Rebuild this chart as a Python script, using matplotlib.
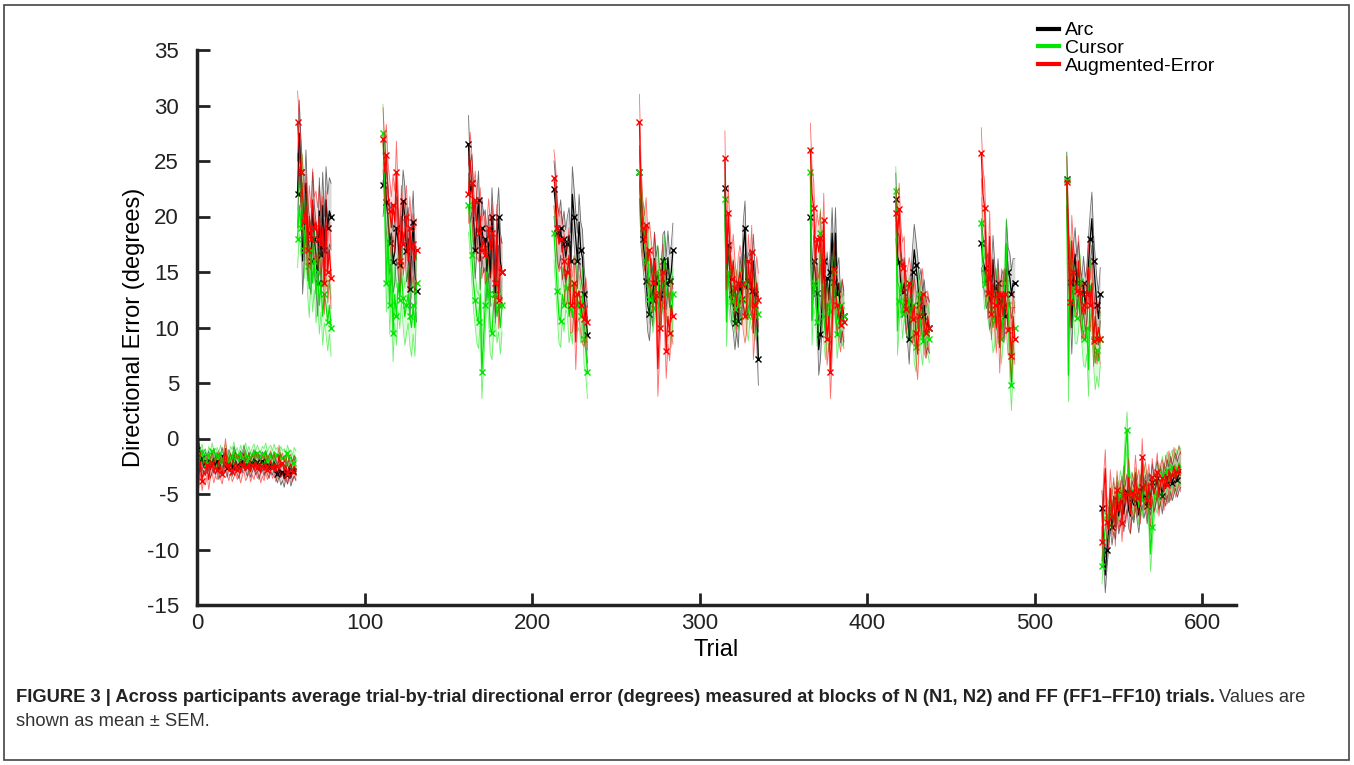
import numpy as np
import matplotlib
matplotlib.use("Agg")
import matplotlib.pyplot as plt
from matplotlib.lines import Line2D
from matplotlib.patches import Rectangle

plt.rcParams['font.family'] = ['Liberation Sans', 'DejaVu Sans']
plt.rcParams['axes.unicode_minus'] = False

groups = ['Arc', 'Cursor', 'Augmented-Error']
colors = ['#000000', '#00e600', '#ff0000']

# first trial of each block: N1, FF1..FF10, N2
block_starts = [0, 60, 111, 162, 213, 264, 315, 366, 417, 468, 519, 540]

# ---- Arc ----
arc_blocks = [
    [-1.0, -0.5, -2.2, -1.8, -2.6, -2.0, -2.4, -1.9, -2.8, -2.2, -1.7, -2.5, -2.0, -2.9, -2.3,
     -1.6, -2.4, -2.1, -2.7, -1.8, -2.2, -2.6, -1.5, -2.0, -2.4, -2.8, -1.9, -2.3, -1.4, -2.1,
     -2.6, -2.0, -2.7, -2.2, -1.8, -2.5, -2.1, -2.9, -2.3, -2.0, -2.6, -1.9, -2.4, -2.8, -2.2,
     -2.5, -2.0, -2.7, -3.2, -2.6, -3.4, -3.0, -3.6, -2.8, -3.3, -2.5, -3.5, -2.9, -2.6, -3.0],
    [22.0, 27.5, 24.0, 16.0, 19.0, 23.0, 18.5, 17.0, 16.0, 21.0, 18.0, 16.5, 14.0, 20.5, 16.5,
     21.0, 17.0, 21.5, 19.0, 20.5, 20.0],
    [22.8, 24.4, 21.3, 19.8, 17.6, 18.5, 15.9, 16.8, 19.0, 17.8, 15.6, 18.5, 21.4, 19.9, 16.9,
     18.0, 13.5, 17.0, 19.5, 15.0, 13.3],
    [26.5, 22.0, 23.0, 20.0, 17.0, 19.5, 21.5, 16.0, 19.0, 17.5, 18.0, 15.0, 17.5, 14.5, 20.0,
     17.0, 13.0, 18.0, 20.0, 16.0, 15.0],
    [22.5, 21.0, 18.5, 17.8, 19.0, 16.8, 18.0, 16.3, 17.5, 18.3, 16.0, 22.0, 20.0, 18.0, 16.0,
     19.5, 17.0, 16.3, 13.0, 11.0, 9.3],
    [24.0, 19.7, 18.0, 16.5, 14.2, 12.0, 11.2, 13.8, 12.5, 16.2, 14.0, 15.0, 13.0, 12.4, 16.0,
     16.3, 14.0, 16.3, 14.2, 15.0, 17.0],
    [22.6, 13.4, 17.4, 15.0, 13.0, 12.0, 10.4, 12.0, 10.6, 14.0, 12.6, 17.2, 19.0, 13.5, 14.2,
     14.6, 13.3, 16.0, 13.0, 11.0, 7.2],
    [20.0, 13.0, 16.0, 15.0, 13.1, 8.0, 9.4, 12.3, 16.0, 12.6, 14.5, 12.5, 15.0, 18.5, 14.1,
     18.5, 13.0, 14.0, 10.9, 12.0, 11.0],
    [21.6, 16.4, 15.9, 14.0, 13.2, 14.0, 12.3, 11.0, 9.0, 12.5, 15.0, 17.0, 15.6, 14.2, 12.0,
     13.0, 11.0, 12.0, 9.9, 10.5, 10.0],
    [17.6, 16.0, 15.4, 13.9, 14.5, 12.0, 13.0, 16.1, 13.6, 12.0, 14.0, 11.0, 12.4, 13.0, 11.0,
     17.5, 15.0, 14.5, 13.0, 14.0, 14.0],
    [23.4, 16.3, 14.1, 10.0, 15.0, 16.6, 14.0, 15.3, 13.1, 12.0, 14.0, 12.1, 13.0, 15.8, 18.0,
     19.8, 16.0, 13.9, 12.0, 10.8, 13.0],
    [-6.3, -9.5, -12.3, -10.0, -8.3, -6.5, -8.0, -6.8, -7.5, -5.5, -7.0, -6.2, -5.0, -6.8, -5.6,
     -4.8, -6.5, -7.0, -5.4, -6.0, -4.6, -5.8, -6.9, -5.2, -4.4, -5.6, -4.9, -6.1, -4.7, -5.3,
     -3.9, -5.0, -4.4, -3.6, -4.8, -4.1, -5.2, -3.8, -4.5, -3.5, -4.2, -3.2, -4.0, -3.4, -2.9,
     -3.7, -3.1, -2.8],
]

# ---- Cursor ----
cur_blocks = [
    [-1.5, -2.2, -1.8, -1.2, -2.0, -1.6, -2.3, -1.4, -1.9, -1.1, -1.7, -2.1, -1.5, -1.9, -1.3,
     -2.0, -1.6, -1.2, -1.8, -2.2, -1.4, -1.7, -1.0, -1.9, -1.5, -2.1, -1.3, -1.8, -1.6, -1.1,
     -1.9, -1.4, -2.0, -1.5, -1.2, -1.8, -1.3, -1.7, -2.0, -1.4, -1.6, -1.1, -1.9, -1.5, -1.3,
     -1.8, -1.2, -1.7, -1.5, -2.0, -1.4, -1.8, -1.6, -2.1, -1.3, -1.9, -1.7, -2.2, -1.5, -1.8],
    [18.0, 21.0, 19.0, 23.0, 17.0, 19.5, 15.5, 13.5, 17.0, 14.0, 16.0, 13.0, 15.0, 12.0, 14.0,
     11.0, 13.0, 12.0, 10.5, 12.0, 10.0],
    [27.5, 22.0, 14.0, 18.0, 12.0, 16.0, 9.5, 13.0, 11.0, 14.0, 12.5, 15.0, 12.7, 11.0, 12.0,
     13.0, 11.0, 10.0, 12.0, 10.0, 14.0],
    [21.0, 19.0, 16.5, 14.0, 12.5, 11.0, 10.5, 13.0, 6.0, 9.0, 12.0, 15.0, 13.0, 10.0, 9.5,
     12.0, 13.0, 11.0, 12.0, 10.0, 12.0],
    [18.5, 16.0, 13.3, 11.0, 10.6, 13.0, 12.0, 14.0, 13.6, 11.0, 12.0, 10.9, 14.0, 13.8, 12.0,
     12.4, 11.0, 13.0, 9.0, 8.0, 6.0],
    [24.0, 21.0, 19.0, 18.5, 15.9, 17.0, 12.6, 14.0, 11.8, 13.0, 15.0, 14.9, 12.0, 13.3, 14.0,
     16.0, 13.0, 12.7, 13.0, 10.5, 13.0],
    [21.6, 10.5, 15.0, 13.0, 12.4, 14.0, 11.7, 13.0, 12.0, 13.3, 12.5, 13.5, 14.0, 12.0, 11.0,
     13.0, 12.0, 13.0, 11.0, 12.0, 11.2],
    [24.0, 10.6, 14.0, 13.0, 10.5, 12.0, 18.5, 14.0, 11.0, 9.3, 12.0, 10.0, 11.5, 13.0, 15.0,
     12.0, 9.4, 11.0, 12.0, 10.5, 11.0],
    [22.3, 9.7, 12.4, 14.0, 11.2, 13.0, 12.0, 11.2, 12.5, 10.6, 12.0, 9.0, 8.2, 11.0, 13.0,
     10.0, 8.8, 11.0, 9.5, 10.0, 9.0],
    [19.4, 16.0, 13.9, 15.0, 13.0, 12.0, 11.7, 10.0, 10.7, 13.0, 10.8, 12.0, 9.0, 11.0, 14.0,
     17.5, 12.0, 8.0, 4.8, 9.0, 10.0],
    [23.3, 5.7, 15.8, 12.2, 13.6, 11.0, 10.9, 12.0, 14.2, 11.0, 9.0, 8.8, 10.0, 6.2, 13.7,
     12.0, 9.0, 6.8, 8.0, 7.0, 9.0],
    [-11.5, -9.3, -8.2, -6.9, -7.5, -6.0, -6.8, -5.5, -6.2, -5.0, -5.8, -4.5, -5.4, -4.0, -1.0,
     0.8, -3.5, -5.2, -4.6, -5.8, -4.2, -5.0, -6.2, -4.8, -5.5, -3.9, -5.1, -4.4, -6.5, -10.4,
     -8.0, -5.8, -4.6, -5.2, -3.8, -4.5, -3.2, -4.1, -3.5, -2.8, -3.9, -3.0, -2.6, -3.4, -2.5,
     -3.0, -2.2, -2.6],
]

# ---- Augmented-Error ----
ae_blocks = [
    [-2.5, -3.6, -2.1, -3.8, -2.9, -3.3, -2.4, -3.7, -2.6, -2.2, -3.1, -2.5, -2.8, -2.0, -2.7,
     -3.2, -2.3, -0.9, -2.4, -2.9, -2.2, -3.0, -2.6, -2.1, -2.8, -2.4, -3.1, -2.5, -2.0, -2.9,
     -2.6, -2.2, -3.0, -2.4, -2.8, -2.1, -2.7, -2.3, -3.1, -2.5, -2.9, -2.2, -2.8, -2.4, -2.0,
     -2.7, -2.3, -3.0, -2.5, -1.5, -2.6, -2.2, -2.9, -2.4, -3.2, -2.6, -2.3, -3.0, -2.5, -2.8],
    [28.5, 26.0, 24.0, 22.0, 19.5, 21.0, 17.0, 20.0, 18.0, 21.5, 19.0, 19.5, 18.0, 20.0, 17.5,
     19.0, 14.0, 19.5, 15.0, 17.0, 14.5],
    [27.0, 24.0, 25.5, 22.0, 20.5, 19.0, 21.0, 19.5, 24.0, 19.5, 16.0, 20.0, 17.5, 18.5, 20.0,
     16.0, 19.0, 16.5, 17.5, 16.0, 17.0],
    [22.0, 25.0, 23.0, 20.0, 21.5, 19.0, 18.5, 20.0, 17.0, 18.0, 16.5, 17.0, 19.0, 17.0, 18.5,
     16.0, 14.0, 18.5, 12.5, 15.5, 15.0],
    [23.5, 22.0, 19.0, 17.5, 18.0, 17.2, 16.0, 14.3, 15.0, 16.5, 12.0, 12.1, 14.0, 8.7, 13.0,
     13.3, 12.0, 11.0, 10.8, 12.0, 10.5],
    [28.5, 22.0, 19.0, 17.6, 19.2, 16.0, 17.0, 15.4, 14.0, 16.0, 12.9, 6.3, 10.0, 13.6, 15.0,
     12.0, 7.9, 11.0, 9.5, 12.0, 11.0],
    [25.3, 15.8, 20.3, 17.0, 14.4, 16.0, 13.6, 12.0, 14.0, 15.0, 13.9, 12.0, 11.0, 12.0, 16.0,
     13.5, 16.8, 9.5, 12.0, 14.0, 12.5],
    [26.0, 22.0, 20.8, 15.9, 18.0, 16.8, 18.1, 14.0, 19.7, 12.0, 9.0, 11.0, 6.0, 10.0, 15.3,
     13.0, 12.0, 11.2, 10.2, 12.0, 10.5],
    [20.3, 18.0, 20.7, 17.0, 15.4, 15.9, 11.7, 13.0, 14.0, 13.0, 10.8, 12.0, 9.5, 7.6, 11.0,
     12.0, 13.0, 10.0, 9.5, 11.0, 10.0],
    [25.7, 22.0, 20.8, 16.0, 13.1, 18.2, 11.2, 14.0, 12.0, 10.0, 13.0, 8.2, 13.0, 11.0, 13.0,
     12.0, 9.8, 10.0, 7.4, 11.0, 9.0],
    [23.1, 18.1, 12.3, 17.8, 15.0, 14.0, 13.3, 16.0, 13.2, 11.2, 12.0, 11.2, 13.0, 15.4, 12.0,
     14.0, 8.8, 11.0, 9.0, 10.0, 9.0],
    [-9.3, -5.0, -2.7, -7.5, -8.2, -4.5, -7.0, -5.2, -8.0, -4.6, -6.5, -5.5, -7.6, -4.2, -6.0,
     -5.0, -3.5, -6.8, -4.8, -5.6, -3.2, -5.4, -4.5, -6.0, -1.7, -4.8, -3.8, -5.5, -4.0, -6.2,
     -3.5, -5.0, -4.3, -3.0, -5.3, -4.0, -3.6, -4.8, -3.2, -4.2, -2.8, -3.9, -3.3, -2.5, -3.6,
     -3.0, -2.4, -3.1],
]

# SEM per block (N1, FF1..FF10, N2)
arc_sem = [0.8, 3.0, 2.8, 2.6, 2.5, 2.4, 2.4, 2.3, 2.3, 2.2, 2.4, 1.6]
cur_sem = [0.7, 2.6, 2.6, 2.4, 2.4, 2.3, 2.2, 2.2, 2.2, 2.3, 2.4, 1.6]
ae_sem = [0.9, 2.8, 2.8, 2.6, 2.5, 2.5, 2.4, 2.4, 2.3, 2.3, 2.3, 1.7]

fig = plt.figure(figsize=(13.54, 7.65), dpi=100)
ax = fig.add_axes([197 / 1354, 1 - 605 / 765, (1236 - 197) / 1354, (605 - 50) / 765])

for blocks, sems, col in zip([arc_blocks, cur_blocks, ae_blocks],
                             [arc_sem, cur_sem, ae_sem], colors):
    for i, (vals, s) in enumerate(zip(blocks, sems)):
        m = np.array(vals)
        x = block_starts[i] + np.arange(len(m))
        ax.fill_between(x, m - s, m + s, color=col, alpha=0.14, lw=0)
        ax.plot(x, m - s, color=col, lw=0.6, alpha=0.55)
        ax.plot(x, m + s, color=col, lw=0.6, alpha=0.55)
        step = 3 if len(m) > 30 else 2
        ax.plot(x, m, color=col, lw=0.9, marker='x', ms=4, mew=1.0, markevery=step)

ax.set_xlim(0, 620)
ax.set_ylim(-15, 35)
ax.set_xticks([0, 100, 200, 300, 400, 500, 600])
ax.set_yticks(np.arange(-15, 36, 5))
for sp in ['top', 'right']:
    ax.spines[sp].set_visible(False)
for sp in ['left', 'bottom']:
    ax.spines[sp].set_linewidth(2.5)
    ax.spines[sp].set_color('#222222')
ax.tick_params(direction='in', length=9, width=2, labelsize=16, colors='#222222')
ax.tick_params(axis='y', pad=13)
ax.tick_params(axis='x', pad=6)
ax.set_xlabel('Trial', fontsize=17)
ax.set_ylabel('Directional Error (degrees)', fontsize=17)
ax.xaxis.set_label_coords(0.5, -0.062)
ax.yaxis.set_label_coords(-0.05, 0.5)

handles = [Line2D([0], [0], color=c, lw=3) for c in colors]
fig.legend(handles, groups, loc='upper left', bbox_to_anchor=(1028 / 1354, 1 - 12 / 765),
           frameon=False, fontsize=14, handlelength=1.1, handletextpad=0.3,
           labelspacing=0.0, borderpad=0)

# caption
cap_y = 1 - 697 / 765
t1 = fig.text(16 / 1354, cap_y, 'FIGURE 3 | Across participants average trial-by-trial directional '
              'error (degrees) measured at blocks of N (N1, N2) and FF (FF1\u2013FF10) trials.',
              fontsize=13.2, fontweight='bold', va='center', color='#222222')
fig.canvas.draw()
bb = t1.get_window_extent(fig.canvas.get_renderer())
fig.text(bb.x1 / 1354 + 4 / 1354, cap_y, 'Values are', fontsize=13.2, va='center', color='#333333')
fig.text(16 / 1354, 1 - 722 / 765, 'shown as mean \u00b1 SEM.', fontsize=13.2, va='center',
         color='#333333')

fig.patches.append(Rectangle((4 / 1354, 5 / 765), 1345 / 1354, 755 / 765, transform=fig.transFigure,
                             fill=False, lw=1.2, ec='#444444'))

fig.savefig('out.png', dpi=100)
